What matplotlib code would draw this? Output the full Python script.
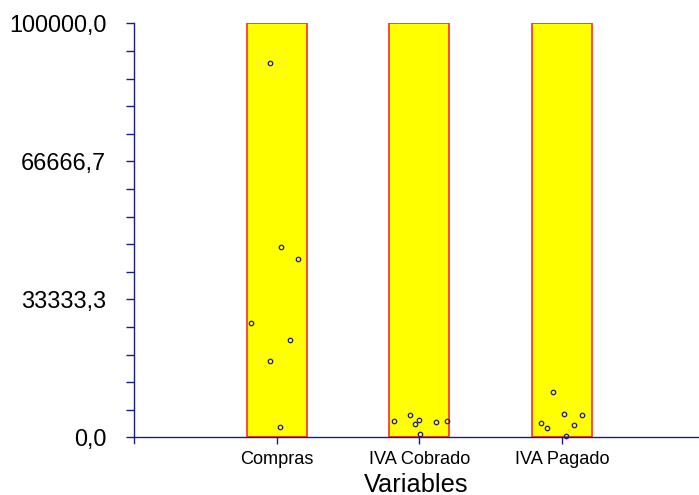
#!/usr/bin/env python3
# Jittered dot plot over full-range bars, three variables
import numpy as np
from matplotlib import pyplot as plt
from matplotlib import ticker

variables = ["Compras", "IVA Cobrado", "IVA Pagado"]
barTops = [100000, 100000, 100000]

# jitter offsets (in category units) and values for each variable
comprasJitter = [-0.049, 0.030, 0.147, -0.182, 0.094, -0.049, 0.023]
comprasValues = [90390, 46010, 43190, 27580, 23550, 18400, 2540]
cobradoJitter = [-0.175, -0.063, -0.030, 0.0, 0.114, 0.196, 0.002]
cobradoValues = [4060, 5360, 3330, 4230, 3740, 4060, 770]
pagadoJitter = [-0.060, -0.146, -0.102, 0.018, 0.088, 0.144, 0.029]
pagadoValues = [10990, 3430, 2370, 5750, 3020, 5430, 430]

yMajorTicks = [0, 100000/3, 200000/3, 100000]
yMajorLabels = ["0,0", "33333,3", "66666,7", "100000,0"]

axisColor = "#1a1a8c"
plt.rcParams["font.family"] = ["Liberation Sans", "DejaVu Sans"]

fig = plt.figure(figsize=(6.99, 4.95), dpi=100)
ax = fig.add_axes([0.1917, 0.1053, 0.8083, 0.8473])

xPos = np.arange(len(variables))
ax.bar(xPos, barTops, width=0.42, color="#ffff00", edgecolor="#ff2a2a", linewidth=1.2, zorder=2)

allJitter = [comprasJitter, cobradoJitter, pagadoJitter]
allValues = [comprasValues, cobradoValues, pagadoValues]
for i in range(len(variables)):
    ax.plot(xPos[i] + np.array(allJitter[i]), allValues[i], linestyle="none", marker="o",
            markersize=3.2, markerfacecolor="none", markeredgecolor=axisColor,
            markeredgewidth=0.9, zorder=3)

ax.set_xlim(-1.003, 2.962)
ax.set_ylim(-1300, 100000)

ax.spines["top"].set_visible(False)
ax.spines["right"].set_visible(False)
ax.spines["bottom"].set_position(("data", 0))
ax.spines["left"].set_color(axisColor)
ax.spines["bottom"].set_color(axisColor)
ax.spines["left"].set_linewidth(1.0)
ax.spines["bottom"].set_linewidth(1.0)

ax.set_xticks(xPos)
ax.set_xticklabels(variables, fontsize=13.1)
ax.tick_params(axis="x", colors=axisColor, length=5, width=1.0, pad=5, labelcolor="black")

ax.yaxis.set_major_locator(ticker.FixedLocator(yMajorTicks))
ax.yaxis.set_major_formatter(ticker.FixedFormatter(yMajorLabels))
ax.yaxis.set_minor_locator(ticker.MultipleLocator(100000/15))
ax.tick_params(axis="y", which="major", colors=axisColor, length=6, width=1.0, pad=14,
               labelsize=16.9, labelcolor="black")
ax.tick_params(axis="y", which="minor", colors=axisColor, length=6, width=1.0)

ax.set_xlabel("Variables", fontsize=18.3, labelpad=3)

fig.savefig("out.png", dpi=100)
